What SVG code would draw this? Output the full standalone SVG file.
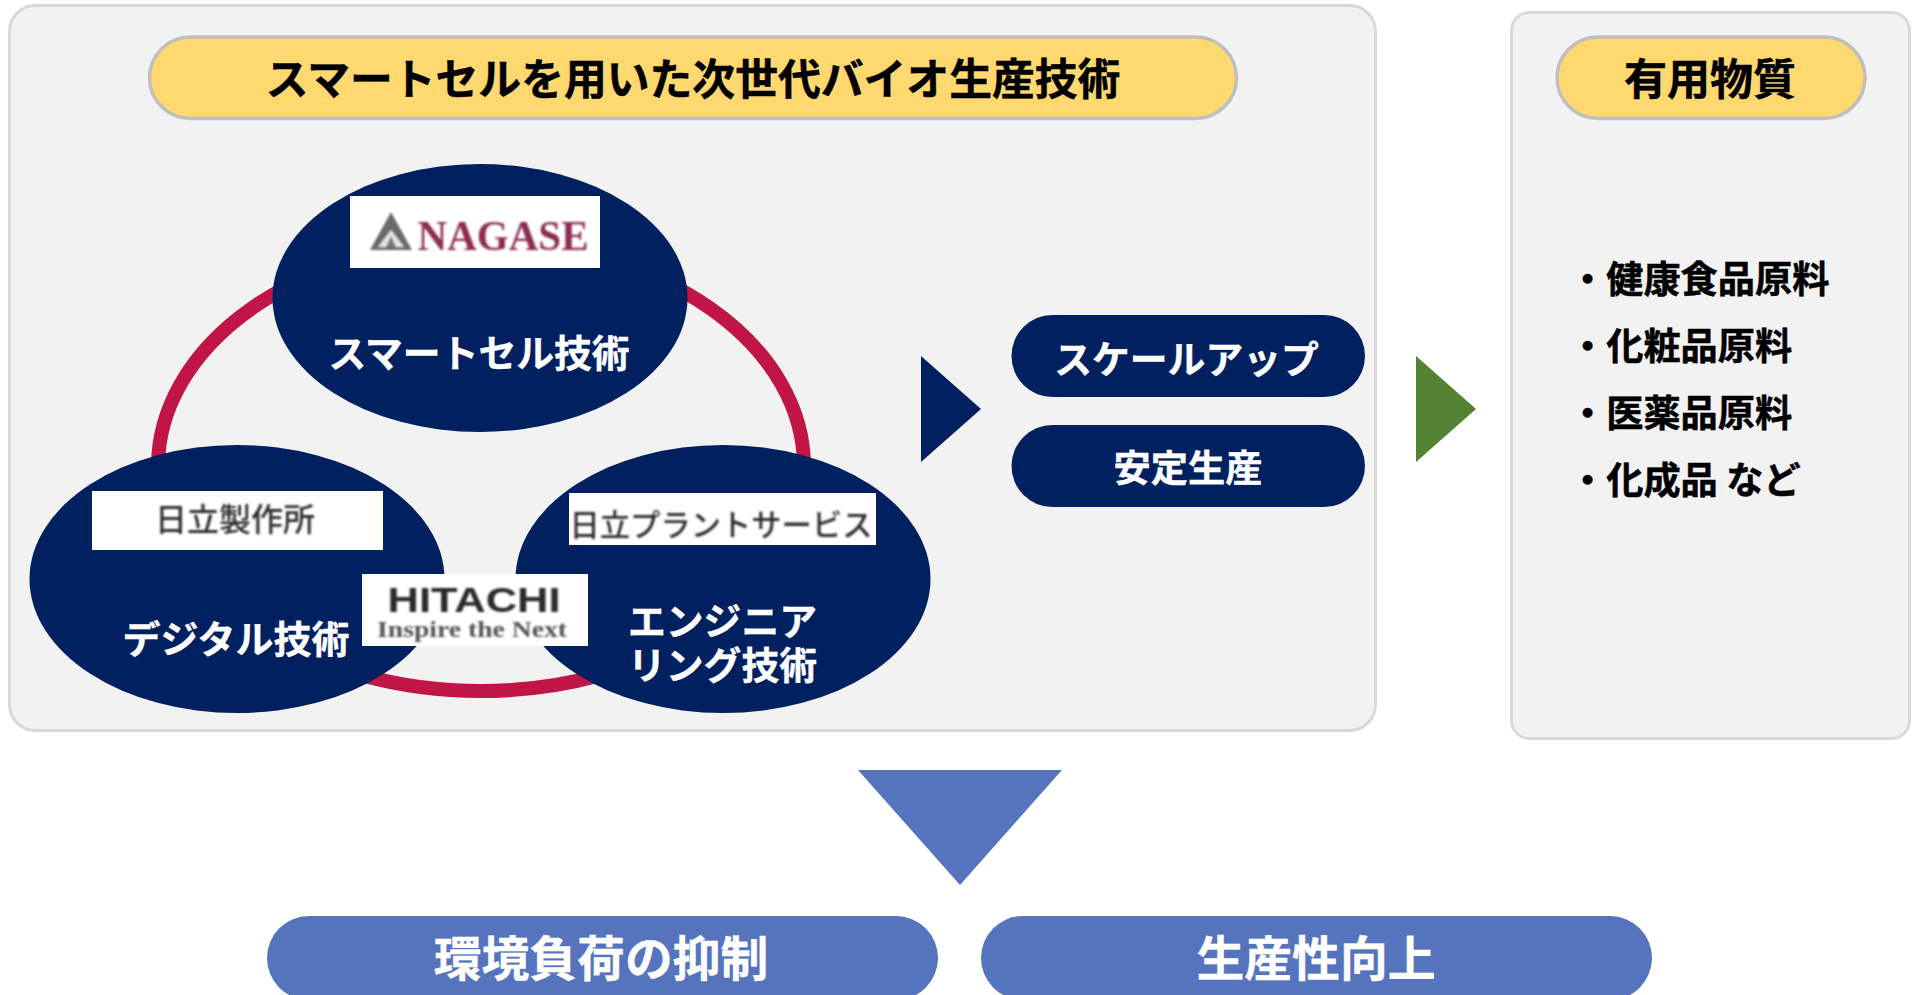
<svg xmlns="http://www.w3.org/2000/svg" width="1917" height="995" viewBox="0 0 1917 995">
<style>
.panel{fill:#f2f2f2;stroke:#d9d9d9;stroke-width:3}
.head{fill:#ffd96f;stroke:#bfbfbf;stroke-width:3.5}
.navy{fill:#002060}
.blue{fill:#5574bd}
.logo{fill:#fff}
text{font-family:"Noto Sans CJK JP","Noto Sans",sans-serif;font-weight:700;text-anchor:middle}
.k{fill:#000;stroke:#000;stroke-width:.5}
.w{fill:#fff;stroke:#fff;stroke-width:.4}
.l{fill:#2e2e2e;font-weight:500}
.s{text-anchor:start}
</style>
<defs><filter id="soft" x="-5%" y="-20%" width="110%" height="140%"><feGaussianBlur stdDeviation="1"/></filter></defs>
<rect width="1917" height="995" fill="#fff"/>
<g id="panel-main"><rect class="panel" x="9.500" y="5.500" width="1366" height="725" rx="26"/></g>
<g id="panel-right"><rect class="panel" x="1511.500" y="12.500" width="398" height="726" rx="18"/></g>
<g id="title"><rect class="head" x="149.500" y="37" width="1087" height="81.500" rx="40.750"/><text class="k" x="693" y="95" font-size="42.800">スマートセルを用いた次世代バイオ生産技術</text></g>
<g id="connectors">
<ellipse cx="481" cy="466.500" rx="323" ry="224.500" fill="none" stroke="#c01546" stroke-width="14"/>
<polygon class="navy" points="921,356 981,409 921,462"/>
<polygon points="1416,356 1476,409 1416,462" fill="#548235"/>
<polygon class="blue" points="858,770 1062,770 960,885"/>
</g>
<g id="node-smartcell"><ellipse class="navy" cx="480" cy="298" rx="207.500" ry="134"/><rect class="logo" x="350" y="196" width="250" height="72"/>
<g filter="url(#soft)"><polygon points="391,212 412,250 370,250" fill="#6b6b6b"/><polygon points="391,230 404,247 378,247" fill="#e4e4e4"/><polygon points="391,236 396,247 386,247" fill="#777"/>
<text x="503" y="250" font-size="43" textLength="171" lengthAdjust="spacingAndGlyphs" style="font-family:'Liberation Serif',serif;fill:#8c2c50;font-weight:700">NAGASE</text></g>
<text class="w" x="479" y="367" font-size="37.800">スマートセル技術</text></g>
<g id="node-digital"><ellipse class="navy" cx="237" cy="579" rx="207.500" ry="134"/><rect class="logo" x="92" y="491" width="291" height="59"/>
<text class="l" x="235" y="531" font-size="32" filter="url(#soft)">日立製作所</text>
<text class="w" x="236" y="653" font-size="38">デジタル技術</text></g>
<g id="node-engineering"><ellipse class="navy" cx="723" cy="579" rx="207.500" ry="134"/><rect class="logo" x="569" y="493" width="307" height="52"/>
<text class="l" x="721" y="536" font-size="30.300" filter="url(#soft)">日立プラントサービス</text>
<text class="w" x="722.500" y="635" font-size="37.800">エンジニア</text><text class="w" x="722.500" y="679" font-size="37.800">リング技術</text></g>
<g id="logo-hitachi"><rect class="logo" x="362" y="574" width="226" height="72"/>
<g filter="url(#soft)"><text x="474" y="612" font-size="35" textLength="173" lengthAdjust="spacingAndGlyphs" style="font-family:'Liberation Sans',sans-serif;fill:#2b2b2b">HITACHI</text>
<text x="472" y="637" font-size="23" textLength="190" lengthAdjust="spacingAndGlyphs" style="font-family:'Liberation Serif',serif;fill:#555">Inspire the Next</text></g></g>
<g id="node-scaleup"><rect class="navy" x="1011.500" y="315" width="353.500" height="82" rx="41"/><text class="w" x="1186.500" y="373" font-size="37.800">スケールアップ</text></g>
<g id="node-stable"><rect class="navy" x="1011.500" y="425" width="353.500" height="82" rx="41"/><text class="w" x="1188" y="482" font-size="37.200">安定生産</text></g>
<g id="head-materials"><rect class="head" x="1557" y="37" width="308" height="81.500" rx="40.750"/><text class="k" x="1710" y="95" font-size="43">有用物質</text></g>
<g id="materials-list" font-size="37.200">
<text class="k s" x="1569" y="293">・健康食品原料</text>
<text class="k s" x="1569" y="360">・化粧品原料</text>
<text class="k s" x="1569" y="427">・医薬品原料</text>
<text class="k s" x="1569" y="494">・化成品 など</text>
</g>
<g id="node-env"><rect class="blue" x="267" y="916" width="671" height="84" rx="42"/><text class="w" x="601" y="976" font-size="47.800">環境負荷の抑制</text></g>
<g id="node-prod"><rect class="blue" x="981" y="916" width="671" height="84" rx="42"/><text class="w" x="1316" y="976" font-size="47.800">生産性向上</text></g>
</svg>
